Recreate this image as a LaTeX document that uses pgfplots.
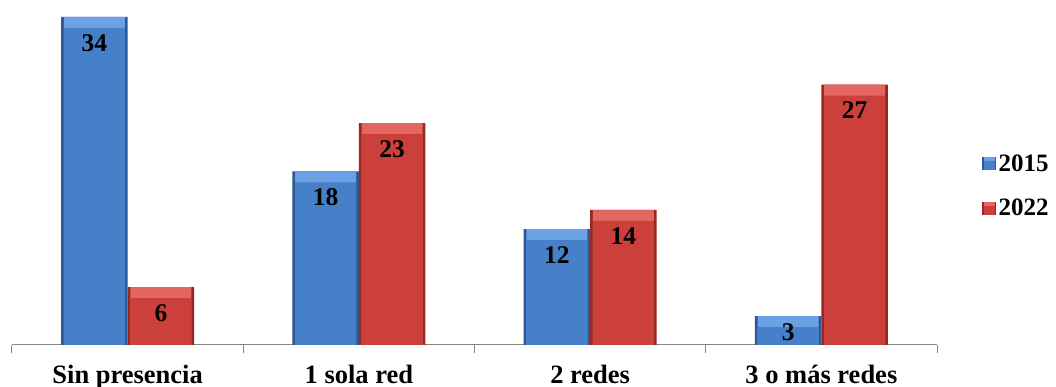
\documentclass[border=0pt]{standalone}
\usepackage{fontspec}
\setmainfont{Liberation Serif}
\usepackage{pgfplots}
\pgfplotsset{compat=1.18}

\definecolor{blueBody}{RGB}{70,128,200}
\definecolor{blueEdge}{RGB}{44,88,150}
\definecolor{blueTop}{RGB}{108,162,228}
\definecolor{redBody}{RGB}{204,64,60}
\definecolor{redEdge}{RGB}{150,40,38}
\definecolor{redTop}{RGB}{228,102,96}
\definecolor{axisGray}{RGB}{134,134,134}

% bar values
\newcommand{\blueData}{(0.5,34) (1.5,18) (2.5,12) (3.5,3)}
\newcommand{\redData}{(0.5,6) (1.5,23) (2.5,14) (3.5,27)}

\pgfplotsset{
  % each bar is built from three layers: dark rim, light top band, body
  rim/.style={draw=none, fill=#1, bar width=66.5pt},
  band/.style={draw=none, fill=#1, bar width=61pt, forget plot},
  body/.style={draw=none, fill=#1, bar width=61pt, forget plot, yshift=-11pt},
  valuelabels/.style={draw=none, fill=none, forget plot, bar width=66.5pt,
    nodes near coords,
    visualization depends on=rawy \as \rawy,
    every node near coord/.append style={font=\fontsize{25.5}{30}\selectfont\bfseries,
      anchor=center, text=black, yshift={10*(\rawy<4)-26}}},
}

\begin{document}
\begin{tikzpicture}
\useasboundingbox (0,0) rectangle (1056pt,387pt);
\begin{axis}[
  at={(12pt,42pt)}, anchor=south west,
  scale only axis, width=925pt, height=328pt,
  xmin=0, xmax=4, ymin=0, ymax=34,
  /pgf/number format/assume math mode=true,
  axis x line=bottom, axis y line=none,
  axis line style={-, draw=axisGray, line width=1pt},
  xtick={0.5,1.5,2.5,3.5},
  xticklabels={Sin presencia, 1 sola red, 2 redes, 3 o más redes},
  major tick length=0pt,
  minor xtick={0,1,2,3,4},
  minor tick length=8pt,
  tick align=outside,
  minor tick style={draw=axisGray, line width=1pt},
  xticklabel style={font=\fontsize{26.5}{30}\selectfont\bfseries, inner sep=0pt,
    anchor=north, text height=18pt, text depth=6pt, yshift=-20pt},
  ybar,
  legend style={at={(1.0486,0.4848)}, anchor=west, draw=none, fill=none,
    inner sep=0pt, row sep=21pt,
    font=\fontsize{25}{30}\selectfont\bfseries,
    nodes={inner sep=2.5pt}},
  legend cell align=left,
]
% 2015
\addplot[rim=blueEdge, bar shift=-33.25pt,
  legend image code/.code={
    \fill[blueEdge] (0pt,-6.5pt) rectangle (14pt,6.5pt);
    \fill[blueBody] (1.5pt,-6.5pt) rectangle (12.5pt,2.5pt);
    \fill[blueTop] (1.5pt,2.5pt) rectangle (12.5pt,6.5pt);}]
  coordinates {\blueData};
\addplot[band=blueTop, bar shift=-33.25pt] coordinates {\blueData};
\addplot[body=blueBody, bar shift=-33.25pt] coordinates {\blueData};
\addplot[valuelabels, bar shift=-33.25pt] coordinates {\blueData};
% 2022
\addplot[rim=redEdge, bar shift=33.25pt,
  legend image code/.code={
    \fill[redEdge] (0pt,-6.5pt) rectangle (14pt,6.5pt);
    \fill[redBody] (1.5pt,-6.5pt) rectangle (12.5pt,2.5pt);
    \fill[redTop] (1.5pt,2.5pt) rectangle (12.5pt,6.5pt);}]
  coordinates {\redData};
\addplot[band=redTop, bar shift=33.25pt] coordinates {\redData};
\addplot[body=redBody, bar shift=33.25pt] coordinates {\redData};
\addplot[valuelabels, bar shift=33.25pt] coordinates {\redData};
\legend{2015, 2022}
\end{axis}
\end{tikzpicture}
\end{document}
